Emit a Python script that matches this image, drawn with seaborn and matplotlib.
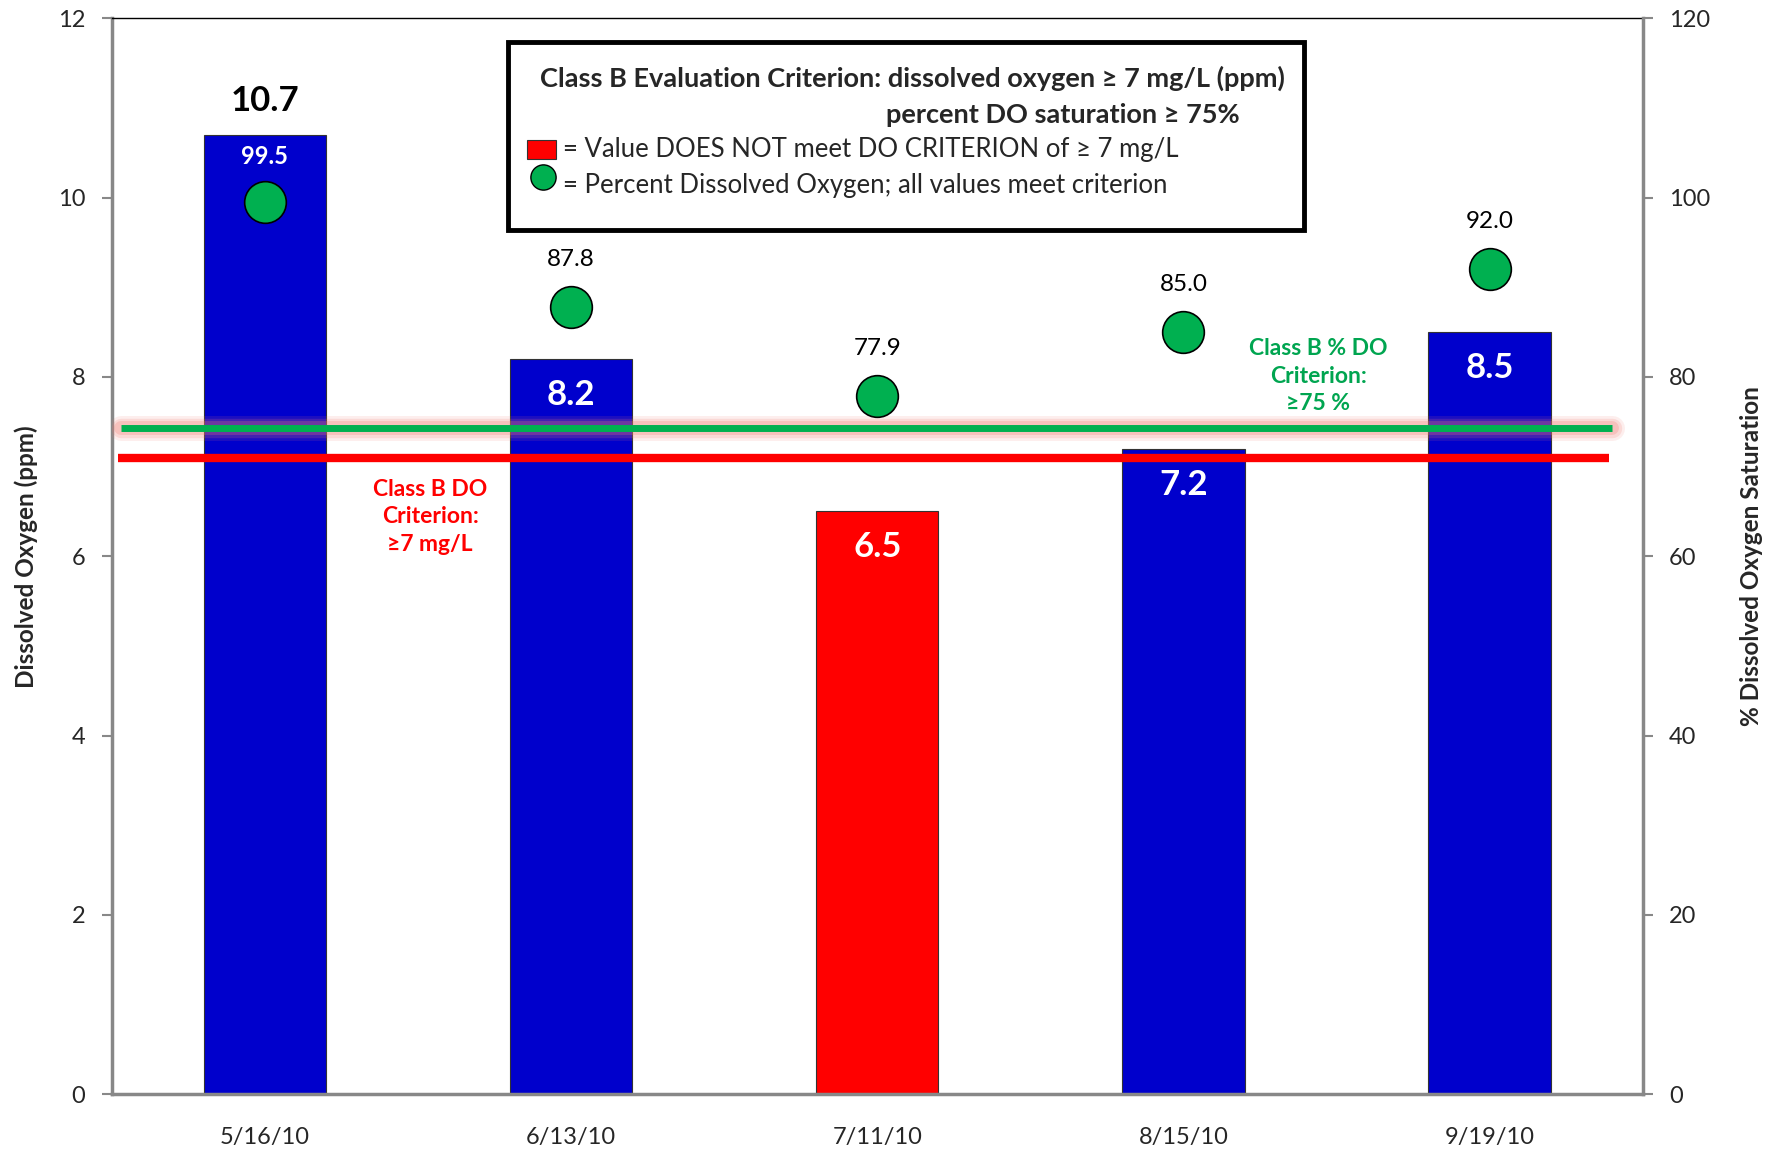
import seaborn as sns
import matplotlib.pyplot as plt
import matplotlib.patches as mpatches
import numpy as np
import pandas as pd

# datos
dates = ['5/16/10', '6/13/10', '7/11/10', '8/15/10', '9/19/10']
do_ppm = [10.7, 8.2, 6.5, 7.2, 8.5]
do_pct = [99.5, 87.8, 77.9, 85.0, 92.0]
status = ['meets', 'meets', 'fails', 'meets', 'meets']
do_criterion = 7.1      # linea roja (mg/L)
pct_criterion = 74.3    # linea verde (% saturacion)

sns.set_style('white')
plt.rcParams['font.family'] = ['Lato', 'DejaVu Sans']

df = pd.DataFrame({'date': dates, 'do': do_ppm, 'pct': do_pct, 'status': status})

fig = plt.figure(figsize=(17.74, 11.52), dpi=100)
ax = fig.add_axes([0.063, 0.0503, 0.863, 0.9337])

sns.barplot(data=df, x='date', y='do', hue='status',
            palette={'meets': '#0000CC', 'fails': '#FF0000'}, saturation=1,
            dodge=False, width=0.4, edgecolor='#333333', linewidth=0.8,
            legend=False, ax=ax, zorder=2)
ax.set_xlim(-0.5, 4.5)
ax.set_ylim(0, 12)
ax.set_yticks(np.arange(0, 13, 2))

# lineas de criterio
ax.plot([-0.478, 4.39], [do_criterion, do_criterion], color='#FF0000', lw=6, zorder=3,
        solid_capstyle='butt')
crit_y = pct_criterion / 10
for lw, a in [(18, 0.12), (14, 0.18), (10, 0.25)]:
    ax.plot([-0.47, 4.4], [crit_y, crit_y], color='#F07A70', lw=lw, alpha=a, zorder=3,
            solid_capstyle='round')
ax.plot([-0.47, 4.4], [crit_y, crit_y], color='#00B050', lw=5, zorder=4,
        solid_capstyle='butt')

# etiquetas de las barras
for i, v in enumerate(do_ppm):
    if i == 0:
        ax.text(i, v + 0.2, f'{v:.1f}', ha='center', va='bottom', fontsize=25,
                fontweight='bold', color='black')
    else:
        ax.text(i, v - 0.4, f'{v:.1f}', ha='center', va='center', fontsize=25,
                fontweight='bold', color='white', zorder=6)

ax.text(0.54, 6.44, 'Class B DO\nCriterion:\n≥7 mg/L', ha='center', va='center',
        fontsize=16.5, fontweight='bold', color='#FF0000', linespacing=1.4)
ax.text(3.44, 8.01, 'Class B % DO\nCriterion:\n≥75 %', ha='center', va='center',
        fontsize=16.5, fontweight='bold', color='#00A550', linespacing=1.4, zorder=6)

# eje secundario con % saturacion
ax2 = ax.twinx()
ax2.set_ylim(0, 120)
ax2.set_yticks(np.arange(0, 121, 20))
sns.scatterplot(x=np.arange(len(dates)), y=do_pct, ax=ax2, s=900, color='#00B050',
                edgecolor='black', linewidth=1.2, legend=False, zorder=5)
for i, p in enumerate(do_pct):
    if i == 0:
        ax2.text(i, p + 5.1, f'{p:.1f}', ha='center', va='center', fontsize=17,
                 fontweight='bold', color='white')
    else:
        ax2.text(i, p + 5.3, f'{p:.1f}', ha='center', va='center', fontsize=17.5,
                 color='black')

# cuadro de leyenda
box = mpatches.Rectangle((0.2587, 0.803), 0.5203, 0.175, transform=ax2.transAxes,
                         facecolor='white', edgecolor='black', lw=3.5, zorder=10)
ax2.add_patch(box)
ax2.text(0.7664, 0.944, 'Class B Evaluation Criterion: dissolved oxygen ≥ 7 mg/L (ppm)',
         transform=ax2.transAxes, ha='right', va='center', fontsize=19.5,
         fontweight='bold', zorder=11)
ax2.text(0.7369, 0.9106, 'percent DO saturation ≥ 75%', transform=ax2.transAxes,
         ha='right', va='center', fontsize=19.5, fontweight='bold', zorder=11)
sq = mpatches.Rectangle((0.2715, 0.8695), 0.0185, 0.0175, transform=ax2.transAxes,
                        facecolor='#FF0000', edgecolor='#333333', lw=0.8, zorder=11)
ax2.add_patch(sq)
ax2.text(0.2949, 0.878, '= Value DOES NOT meet DO CRITERION of ≥ 7 mg/L',
         transform=ax2.transAxes, ha='left', va='center', fontsize=18.5, zorder=11)
ax2.scatter([0.2815], [0.853], s=330, color='#00B050', edgecolor='black', lw=1,
            transform=ax2.transAxes, zorder=11)
ax2.text(0.2949, 0.8444, '= Percent Dissolved Oxygen; all values meet criterion',
         transform=ax2.transAxes, ha='left', va='center', fontsize=18.5, zorder=11)

# ejes y estilo
ax.set_xlabel('')
ax.set_ylabel('Dissolved Oxygen (ppm)', fontsize=17.5, fontweight='bold', labelpad=14)
ax2.set_ylabel('% Dissolved Oxygen Saturation', fontsize=17.5, fontweight='bold',
               rotation=90, labelpad=21)

ax.set_xticks(np.arange(-0.5, 5, 1), minor=True)
ax.tick_params(axis='x', which='major', length=0, labelsize=17, pad=24)
ax.tick_params(axis='x', which='minor', length=9, width=1.5, color='#888888',
               direction='out')
ax.tick_params(axis='y', length=7, width=1.5, color='#888888', direction='out',
               labelsize=17, pad=12)
ax2.tick_params(axis='y', length=7, width=1.5, color='#888888', direction='out',
                labelsize=17, pad=12)

for s in ['left', 'bottom']:
    ax.spines[s].set_color('#888888')
    ax.spines[s].set_linewidth(2.5)
ax.spines['right'].set_visible(False)
ax.spines['top'].set_color('black')
ax.spines['top'].set_linewidth(1)
for s in ['left', 'bottom', 'top']:
    ax2.spines[s].set_visible(False)
ax2.spines['right'].set_color('#888888')
ax2.spines['right'].set_linewidth(2.5)

fig.savefig('out.png', dpi=100)
